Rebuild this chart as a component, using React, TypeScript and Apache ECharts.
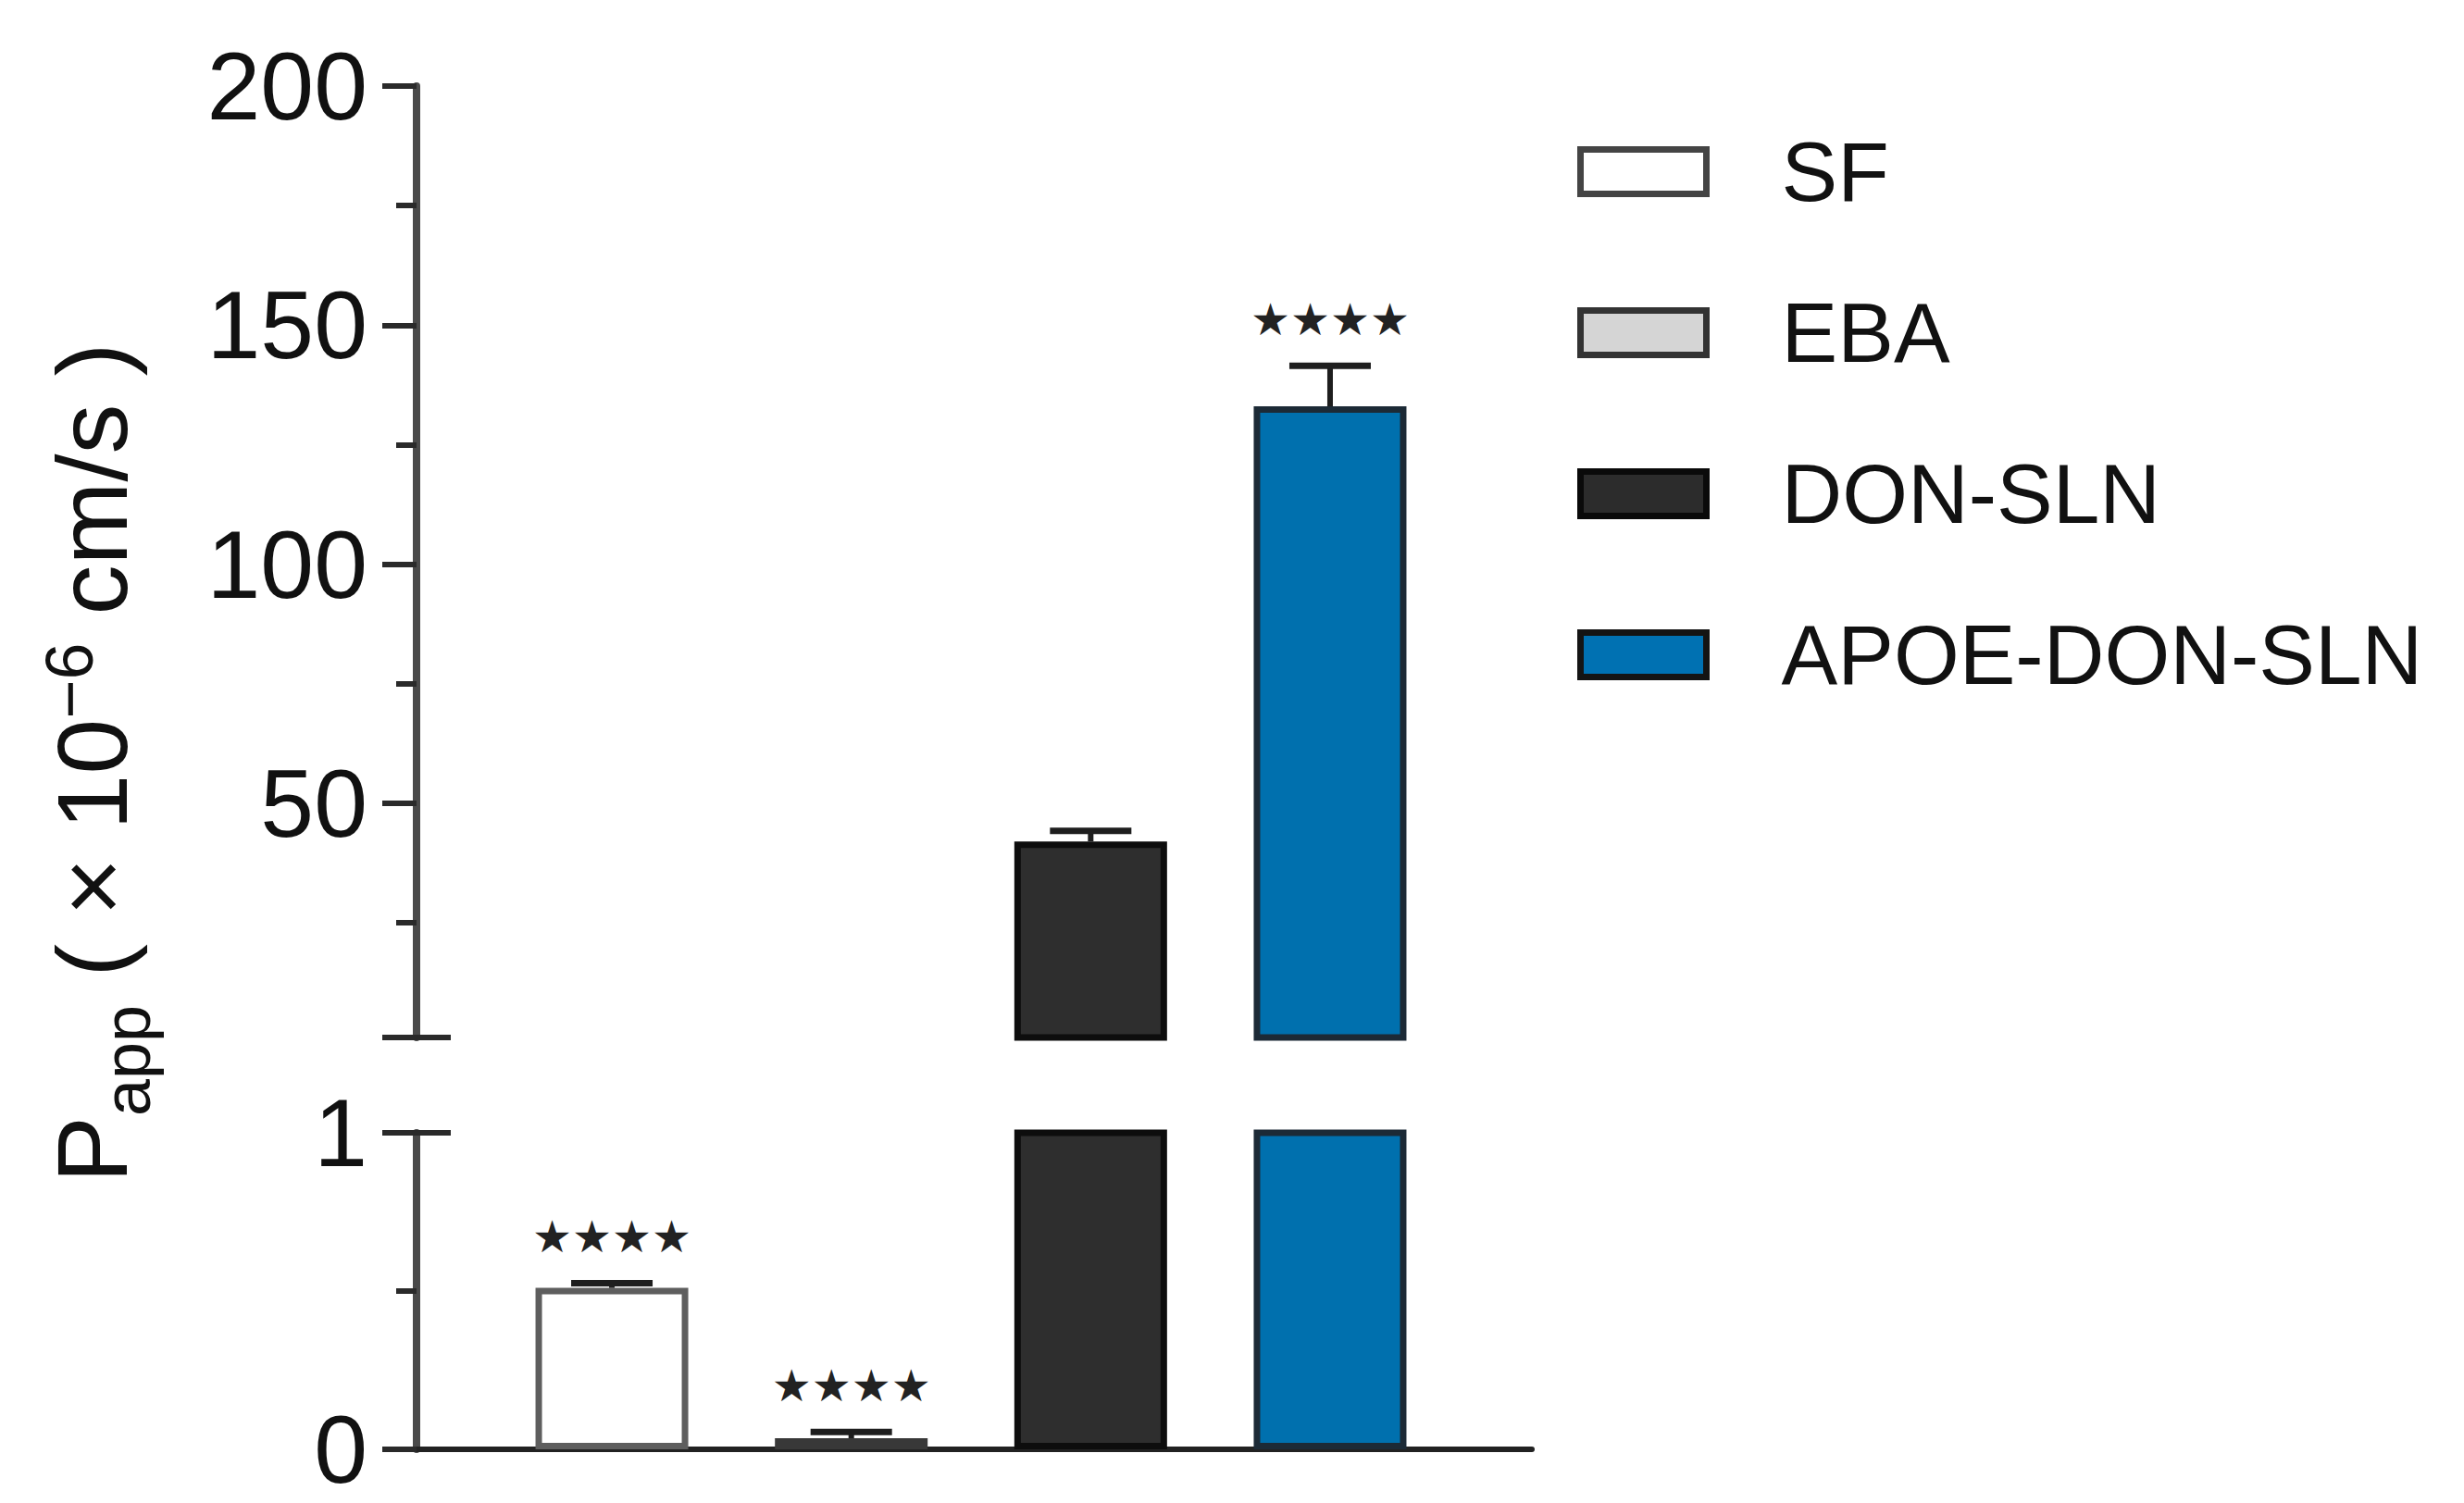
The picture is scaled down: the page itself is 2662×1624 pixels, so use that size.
import React, { useEffect, useRef } from "react";
import * as echarts from "echarts";

// ---------- data ----------
const categories = ["SF", "EBA", "DON-SLN", "APOE-DON-SLN"];
const means = [0.51, 0.035, 42, 133];
const errors = [0.015, 0.02, 2.2, 8.5];
const significance = ["★★★★", "★★★★", "", "★★★★"];
const upperTicks = [50, 100, 150, 200];
const upperMinorTicks = [25, 75, 125, 175];
const lowerTicks = [0, 1];
const lowerMinorTicks = [0.5];
const breakValue = 1;
const upperMax = 200;

// ---------- styles ----------
const FONT = '"Liberation Sans", Arial, Helvetica, sans-serif';
const fills = ["#ffffff", "#d2d2d2", "#2e2e2e", "#0070ae"];
const borders = ["#5e5e5e", "#383838", "#0d0d0d", "#1c2a36"];
const legendFills = ["#ffffff", "#d5d5d5", "#2c2c2c", "#0071b2"];
const legendBorders = ["#444444", "#333333", "#0a0a0a", "#141414"];

const GRID_LEFT = 450;
const GRID_RIGHT = 1655;
const UPPER_TOP = 93;
const UPPER_BOTTOM = 1121;
const LOWER_TOP = 1224;
const LOWER_BOTTOM = 1566;
const X_MIN = -0.816;
const X_MAX = 3.843;

function hiddenY(gridIndex: number, min: number, max: number) {
  return {
    type: "value",
    gridIndex,
    position: "left",
    offset: 0,
    min,
    max,
    splitLine: { show: false },
    axisLabel: { show: false },
    axisTick: { show: false },
    axisLine: { show: false, onZero: false },
  };
}

function buildTitle() {
  const canvas = document.createElement("canvas");
  const ctx = canvas.getContext("2d")!;
  const measure = (t: string, size: number) => {
    ctx.font = `${size}px "Liberation Sans"`;
    return ctx.measureText(t).width;
  };
  const F = 108;
  const f = 72;
  const space = measure(" ", F);
  const tokens: { t: string; s: number; dy: number; gapBefore: number }[] = [
    { t: "P", s: F, dy: 0, gapBefore: 0 },
    { t: "app", s: f, dy: 25, gapBefore: 0 },
    { t: "(", s: F, dy: 0, gapBefore: space },
    { t: "×", s: F, dy: 0, gapBefore: space },
    { t: "10", s: F, dy: 0, gapBefore: space },
    { t: "−6", s: f, dy: -37, gapBefore: 0 },
    { t: "cm/s", s: F, dy: 0, gapBefore: space },
    { t: ")", s: F, dy: 0, gapBefore: space },
  ];
  let x = 0;
  const children: any[] = [];
  tokens.forEach((tk) => {
    x += tk.gapBefore;
    children.push({
      type: "text",
      x,
      y: tk.dy - 0.3465 * tk.s,
      style: {
        text: tk.t,
        font: `${tk.s}px ${FONT}`,
        fill: "#111111",
        align: "left",
        verticalAlign: "middle",
      },
    });
    x += measure(tk.t, tk.s);
  });
  return {
    type: "group",
    x: 137,
    y: 1278,
    rotation: Math.PI / 2,
    children,
  };
}

export default function App() {
  const ref = useRef<HTMLDivElement>(null);

  useEffect(() => {
    document.body.style.margin = "0";
    const chart = echarts.init(ref.current!, null, { renderer: "svg" });

    const barSeries: any[] = [];
    categories.forEach((name, i) => {
      [0, 1].forEach((g) => {
        barSeries.push({
          type: "bar",
          name,
          xAxisIndex: g,
          yAxisIndex: g === 0 ? 0 : 3,
          data: [[i, means[i]]],
          barWidth: 165,
          barGap: "-100%",
          clip: true,
          itemStyle: { color: fills[i], borderColor: borders[i], borderWidth: 7 },
          emphasis: { disabled: true },
        });
      });
    });

    const errorData = (g: number) =>
      categories
        .map((_, i) => [i, means[i], errors[i], i])
        .filter((d) => (g === 0 ? d[1] > breakValue : d[1] + d[2] <= breakValue));

    const errorSeries = [0, 1].map((g) => ({
      type: "custom",
      xAxisIndex: g,
      yAxisIndex: g === 0 ? 0 : 3,
      data: errorData(g),
      z: 5,
      renderItem: (params: any, api: any) => {
        const idx = api.value(3);
        const base = api.coord([api.value(0), api.value(1)]);
        const top = api.coord([api.value(0), api.value(1) + api.value(2)]);
        const half = 44;
        return {
          type: "group",
          children: [
            {
              type: "line",
              shape: { x1: base[0], y1: base[1], x2: top[0], y2: top[1] },
              style: { stroke: "#1e1e1e", lineWidth: 6 },
            },
            {
              type: "line",
              shape: { x1: top[0] - half, y1: top[1], x2: top[0] + half, y2: top[1] },
              style: { stroke: "#1e1e1e", lineWidth: 7 },
            },
            {
              type: "text",
              x: top[0],
              y: top[1] - 50,
              style: {
                text: significance[idx],
                font: '48px "DejaVu Sans", sans-serif',
                fill: "#222222",
                align: "center",
                verticalAlign: "middle",
              },
            },
          ],
        };
      },
    }));

    const tickStyle = { color: "#2a2a2a", width: 6 };
    const labelStyle = { fontSize: 104, fontFamily: FONT, color: "#111111" };

    chart.setOption({
      animation: false,
      backgroundColor: "#ffffff",
      grid: [
        {
          left: GRID_LEFT,
          top: UPPER_TOP,
          width: GRID_RIGHT - GRID_LEFT,
          height: UPPER_BOTTOM - UPPER_TOP,
          outerBoundsMode: "none",
        },
        {
          left: GRID_LEFT,
          top: LOWER_TOP,
          width: GRID_RIGHT - GRID_LEFT,
          height: LOWER_BOTTOM - LOWER_TOP,
          outerBoundsMode: "none",
        },
      ],
      xAxis: [
        {
          type: "value",
          gridIndex: 0,
          min: X_MIN,
          max: X_MAX,
          show: false,
          splitLine: { show: false },
        },
        {
          type: "value",
          gridIndex: 1,
          position: "bottom",
          min: X_MIN,
          max: X_MAX,
          axisLine: { show: true, onZero: false, lineStyle: { color: "#222222", width: 6 } },
          axisTick: { show: false },
          axisLabel: { show: false },
          splitLine: { show: false },
        },
      ],
      yAxis: [
        {
          ...hiddenY(0, breakValue, upperMax),
          axisLine: { show: true, onZero: false, lineStyle: { color: "#4a4a4a", width: 8 } },
          axisTick: { show: true, customValues: [breakValue, ...upperTicks], length: 37, lineStyle: tickStyle },
          axisLabel: { show: true, customValues: upperTicks, margin: 53, ...labelStyle },
        },
        {
          ...hiddenY(0, breakValue, upperMax),
          axisTick: { show: true, customValues: upperMinorTicks, length: 22, lineStyle: tickStyle },
        },
        {
          ...hiddenY(0, breakValue, upperMax),
          axisTick: { show: true, inside: true, customValues: [breakValue], length: 37, lineStyle: tickStyle },
        },
        {
          ...hiddenY(1, 0, breakValue),
          axisLine: { show: true, onZero: false, lineStyle: { color: "#4a4a4a", width: 8 } },
          axisTick: { show: true, customValues: lowerTicks, length: 37, lineStyle: tickStyle },
          axisLabel: { show: true, customValues: lowerTicks, margin: 53, ...labelStyle },
        },
        {
          ...hiddenY(1, 0, breakValue),
          axisTick: { show: true, customValues: lowerMinorTicks, length: 22, lineStyle: tickStyle },
        },
        {
          ...hiddenY(1, 0, breakValue),
          axisTick: { show: true, inside: true, customValues: [breakValue], length: 37, lineStyle: tickStyle },
        },
      ],
      legend: {
        orient: "vertical",
        left: 1704,
        top: 140,
        padding: 0,
        itemWidth: 136,
        itemHeight: 48,
        itemGap: 83,
        icon: "rect",
        selectedMode: false,
        data: categories.map((name, i) => ({
          name,
          itemStyle: { color: legendFills[i], borderColor: legendBorders[i], borderWidth: 7 },
        })),
        textStyle: { fontSize: 91, fontFamily: FONT, color: "#111111", padding: [0, 0, 0, 76] },
      },
      graphic: [buildTitle()],
      series: [...barSeries, ...errorSeries],
    });

    return () => chart.dispose();
  }, []);

  return (
    <div
      ref={ref}
      style={{ position: "absolute", left: 0, top: 0, width: 2662, height: 1624 }}
    />
  );
}
